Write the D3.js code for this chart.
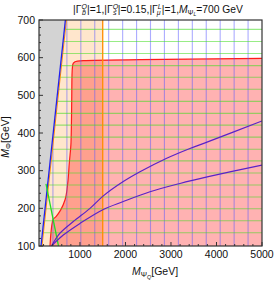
<!DOCTYPE html>
<html>
<head>
<meta charset="utf-8">
<script src="https://cdn.jsdelivr.net/npm/d3@7"></script>
<style>
  body { margin: 0; background: #fff; }
  text { font-family: "Liberation Sans", Arial, sans-serif; fill: #111; }
</style>
</head>
<body>
<svg id="chart" width="274" height="281"></svg>
<script>
// axis ticks
var xTicks = [1000, 2000, 3000, 4000, 5000];
var yTicks = [100, 200, 300, 400, 500, 600, 700];

// mesh lines
var meshX = [406, 713, 1019, 1325, 1631, 1938, 2244, 2550, 2856, 3163, 3469, 3775, 4081, 4388, 4694];
var meshY = [135, 167, 199, 230, 262, 294, 326, 357, 389, 421, 452, 484, 516, 548, 579, 611, 643, 675];

// excluded (grey) edge
var blueX = [144, 680];
var blueY = [100, 700];

// orange bound
var orangeX = 1500;

// red region boundary
var redX = [342, 401, 474, 577, 671, 731, 766, 803, 819, 825, 840, 891, 1073, 2319, 5000];
var redY = [100, 169, 178, 196, 222, 267, 321, 374, 488, 554, 581, 589, 592, 595, 598];

// green line
var greenX = [254, 528];
var greenY = [265, 100];

// purple contours
var upperX = [375, 561, 854, 1221, 1513, 1952, 2319, 2906, 3417, 3820, 5000];
var upperY = [100, 134, 165, 200, 233, 271, 297, 333, 359, 377, 432];
var lowerX = [375, 634, 1001, 1513, 1952, 2539, 3198, 3820, 5000];
var lowerY = [100, 129, 160, 197, 218, 244, 266, 284, 315];

var svg = d3.select("#chart");
var x = d3.scaleLinear().domain([100, 5000]).range([39, 262]);
var y = d3.scaleLinear().domain([100, 700]).range([246, 20]);

var zip = (xs, ys) => xs.map((v, i) => [v, ys[i]]);
var line = d3.line().x(d => x(d[0])).y(d => y(d[1]));
var smooth = d3.line().x(d => x(d[0])).y(d => y(d[1])).curve(d3.curveMonotoneY);

var defs = svg.append("defs");
defs.append("clipPath").attr("id", "plot")
    .append("rect").attr("x", 39).attr("y", 20).attr("width", 223).attr("height", 226);
// allowed area = right of the blue edge
defs.append("clipPath").attr("id", "allowed")
    .append("path")
    .attr("d", line([[blueX[0], 100], [blueX[1], 700], [5000, 700], [5000, 100]]));

var g = svg.append("g").attr("clip-path", "url(#plot)");

// grey region
g.append("path")
    .attr("d", line([[100, 100], [blueX[0], blueY[0]], [blueX[1], blueY[1]], [100, 700]]))
    .attr("fill", "#d3d3d3");

// peach region between blue edge and orange bound
g.append("path")
    .attr("d", line([[blueX[0], 100], [blueX[1], 700], [orangeX, 700], [orangeX, 100]]))
    .attr("fill", "#ff8000").attr("fill-opacity", 0.2);

// red region
var redPts = zip(redX, redY);
g.append("path")
    .attr("d", smooth(redPts.concat([[5000, 100]])) + "Z")
    .attr("fill", "#ff0000").attr("fill-opacity", 0.3);
g.append("path")
    .attr("d", smooth(redPts))
    .attr("fill", "none").attr("stroke", "#ff1a1a").attr("stroke-width", 1.2);

// mesh
var mesh = g.append("g").attr("clip-path", "url(#allowed)");
mesh.selectAll(".mx").data(meshX).enter().append("line")
    .attr("x1", d => x(d)).attr("x2", d => x(d))
    .attr("y1", y(100)).attr("y2", y(700))
    .attr("stroke", "#5a5aff").attr("stroke-opacity", 0.5).attr("stroke-width", 1.1);
mesh.selectAll(".my").data(meshY).enter().append("line")
    .attr("x1", x(100)).attr("x2", x(5000))
    .attr("y1", d => y(d)).attr("y2", d => y(d))
    .attr("stroke", "#44dd22").attr("stroke-opacity", 0.55).attr("stroke-width", 1.1);

// orange bound
g.append("line")
    .attr("x1", x(orangeX)).attr("x2", x(orangeX)).attr("y1", y(100)).attr("y2", y(700))
    .attr("stroke", "#ff8c00").attr("stroke-width", 1.3);
g.append("path")
    .attr("d", line(zip(blueX, blueY)))
    .attr("transform", "translate(1,0)")
    .attr("fill", "none").attr("stroke", "#ff8c00").attr("stroke-width", 1);

// blue edge
g.append("path")
    .attr("d", line(zip(blueX, blueY)))
    .attr("fill", "none").attr("stroke", "#2020ee").attr("stroke-width", 1.3);

// green line
g.append("path")
    .attr("d", line(zip(greenX, greenY)))
    .attr("fill", "none").attr("stroke", "#22dd22").attr("stroke-width", 1.3);

// purple contours
var purple = d3.line().x(d => x(d[0])).y(d => y(d[1])).curve(d3.curveCatmullRom.alpha(0.5));
[zip(upperX, upperY), zip(lowerX, lowerY)].forEach(function(pts) {
    g.append("path")
        .attr("d", purple(pts))
        .attr("fill", "none").attr("stroke", "#5a22c8").attr("stroke-width", 1.2);
});

// frame + ticks
svg.append("rect")
    .attr("x", 39).attr("y", 20).attr("width", 223).attr("height", 226)
    .attr("fill", "none").attr("stroke", "#333").attr("stroke-width", 1.2);

var xMinor = d3.range(200, 5000, 200).filter(v => v % 1000 != 0);
var yMinor = d3.range(120, 700, 20).filter(v => v % 100 != 0);

svg.selectAll(".xt").data(xTicks).enter().append("line")
    .attr("x1", d => x(d)).attr("x2", d => x(d)).attr("y1", 246).attr("y2", 242)
    .attr("stroke", "#333");
svg.selectAll(".xm").data(xMinor).enter().append("line")
    .attr("x1", d => x(d)).attr("x2", d => x(d)).attr("y1", 246).attr("y2", 244)
    .attr("stroke", "#333");
svg.selectAll(".yt").data(yTicks).enter().append("line")
    .attr("x1", 39).attr("x2", 43).attr("y1", d => y(d)).attr("y2", d => y(d))
    .attr("stroke", "#333");
svg.selectAll(".ym").data(yMinor).enter().append("line")
    .attr("x1", 39).attr("x2", 41).attr("y1", d => y(d)).attr("y2", d => y(d))
    .attr("stroke", "#333");

svg.selectAll(".xl").data(xTicks).enter().append("text")
    .attr("x", d => x(d)).attr("y", 257.5)
    .attr("text-anchor", "middle").attr("font-size", 10.5)
    .text(d => d);
svg.selectAll(".yl").data(yTicks).enter().append("text")
    .attr("x", 35).attr("y", d => y(d) + 3.8)
    .attr("text-anchor", "end").attr("font-size", 10.5)
    .text(d => d);

// axis titles
var xl = svg.append("text").attr("x", 155).attr("y", 275)
    .attr("text-anchor", "middle").attr("font-size", 10.5);
xl.append("tspan").attr("font-style", "italic").text("M");
xl.append("tspan").attr("font-size", 7.5).attr("dy", 2).text("Ψ");
xl.append("tspan").attr("font-size", 5.5).attr("font-style", "italic").attr("dy", 1.5).text("Q");
xl.append("tspan").attr("dy", -3.5).text("[GeV]");

var yl = svg.append("text")
    .attr("transform", "translate(9,137) rotate(-90)")
    .attr("text-anchor", "middle").attr("font-size", 10.5);
yl.append("tspan").attr("font-style", "italic").text("M");
yl.append("tspan").attr("font-size", 7.5).attr("dy", 2).text("Φ");
yl.append("tspan").attr("dy", -2).text("[GeV]");

// title
var t = svg.append("text").attr("x", 158).attr("y", 12.7)
    .attr("text-anchor", "middle").attr("font-size", 10.3);
function gamma(sup, sub, val) {
    t.append("tspan").text("|Γ");
    t.append("tspan").attr("font-size", 7).attr("font-style", "italic").attr("dy", -3.5).text(sup);
    t.append("tspan").attr("font-size", 7).attr("font-style", "italic").attr("dx", -5).attr("dy", 6).text(sub);
    t.append("tspan").attr("dx", 1.2).attr("dy", -2.5).text("|=" + val + ",");
}
gamma("Q", "b", "1");
gamma("Q", "s", "0.15");
gamma("L", "μ", "1");
t.append("tspan").attr("font-style", "italic").text("M");
t.append("tspan").attr("font-size", 7).attr("dy", 2).text("Ψ");
t.append("tspan").attr("font-size", 5).attr("font-style", "italic").attr("dy", 1.3).text("L");
t.append("tspan").attr("dy", -3.3).text("=700 GeV");
</script>
</body>
</html>
